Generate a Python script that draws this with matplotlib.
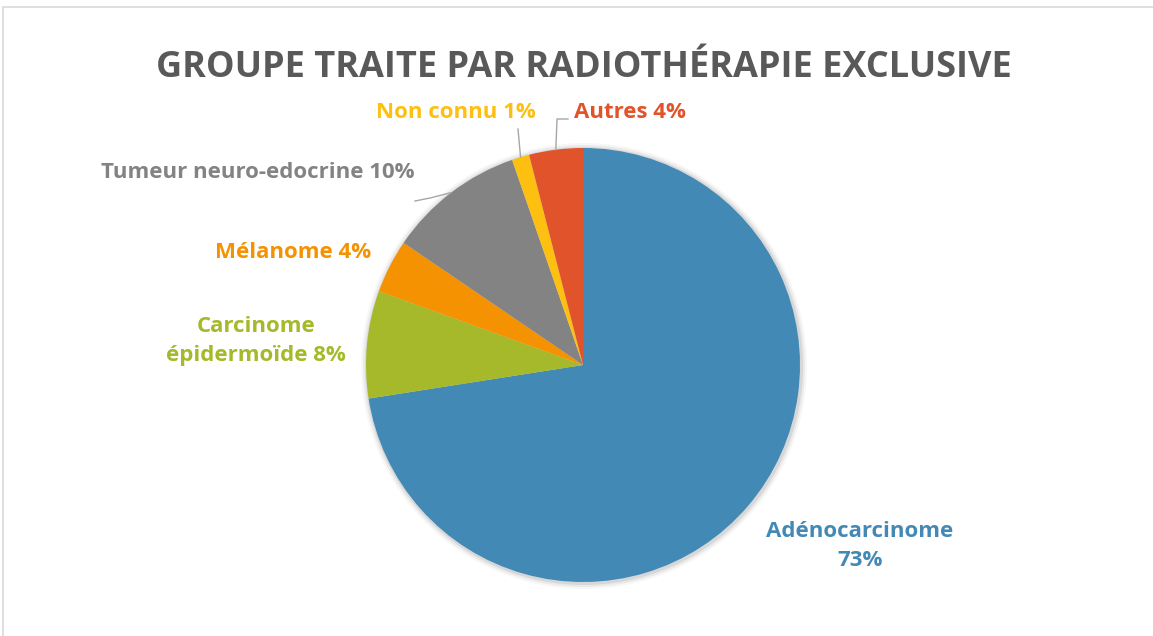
import matplotlib.pyplot as plt
import numpy as np
from matplotlib.patches import Circle, Rectangle

title = 'GROUPE TRAITE PAR RADIOTHÉRAPIE EXCLUSIVE'
categories = ['Adénocarcinome', 'Carcinome\népidermoïde', 'Mélanome',
              'Tumeur neuro-edocrine', 'Non connu', 'Autres']
shares = [72.6, 8.0, 4.0, 10.2, 1.3, 4.0]
colors = ['#4389B5', '#A5B92A', '#F59201', '#838383', '#FDC010', '#E1532A']

W, H = 1153, 636
CX, CY, R = 583, H - 365, 217

# label placement (pixel coords from top-left), separator between name and %
label_pos = [(860, 546, 'center', '\n'), (256, 341, 'center', ' '),
             (371, 253, 'right', ' '), (258, 172, 'center', ' '),
             (456, 113, 'center', ' '), (630, 113, 'center', ' ')]
# leader lines: label-side anchor points (None = no leader)
leaders = [None, None, None, [(415, 201), (430, 198)],
           [(518, 129)], [(568, 119), (557, 119)]]

plt.rcParams['font.family'] = ['Open Sans', 'DejaVu Sans']

fig = plt.figure(figsize=(W / 100, H / 100), dpi=100)
ax = fig.add_axes([0, 0, 1, 1])

# soft shadow
for k, a in [(6, 0.03), (4, 0.05), (2, 0.08)]:
    ax.add_patch(Circle((CX + 1, CY - 1), R + k, color='#000000', alpha=a, lw=0, zorder=0))

wedges, _ = ax.pie(shares, colors=colors, startangle=90, counterclock=False,
                   center=(CX, CY), radius=R, wedgeprops=dict(linewidth=0))

ax.set_xlim(0, W)
ax.set_ylim(0, H)
ax.set_aspect('equal')
ax.axis('off')

total = sum(shares)
for i, (w, name) in enumerate(zip(wedges, categories)):
    x, y, ha, sep = label_pos[i]
    pct = '{:d}%'.format(int(round(shares[i] / total * 100)))
    ax.text(x, H - y, name + sep + pct, ha=ha, va='center', color=colors[i],
            fontsize=16, fontweight='bold', multialignment='center',
            linespacing=1.5)
    if leaders[i] is not None:
        mid = np.deg2rad((w.theta1 + w.theta2) / 2)
        px, py = CX + R * np.cos(mid), CY + R * np.sin(mid)
        xs = [p[0] for p in leaders[i]] + [px]
        ys = [H - p[1] for p in leaders[i]] + [py]
        ax.plot(xs, ys, color='#A6A6A6', lw=1.0, zorder=5)

ax.text(584, H - 77, title, ha='center', va='baseline', color='#595959',
        fontsize=26, fontweight='bold')

# chart border
ax.add_patch(Rectangle((3, -10), W + 20, H - 7 + 10, fill=False,
                       edgecolor='#D9D9D9', lw=1.2, clip_on=False))

fig.savefig('out.png', dpi=100, facecolor='white')
